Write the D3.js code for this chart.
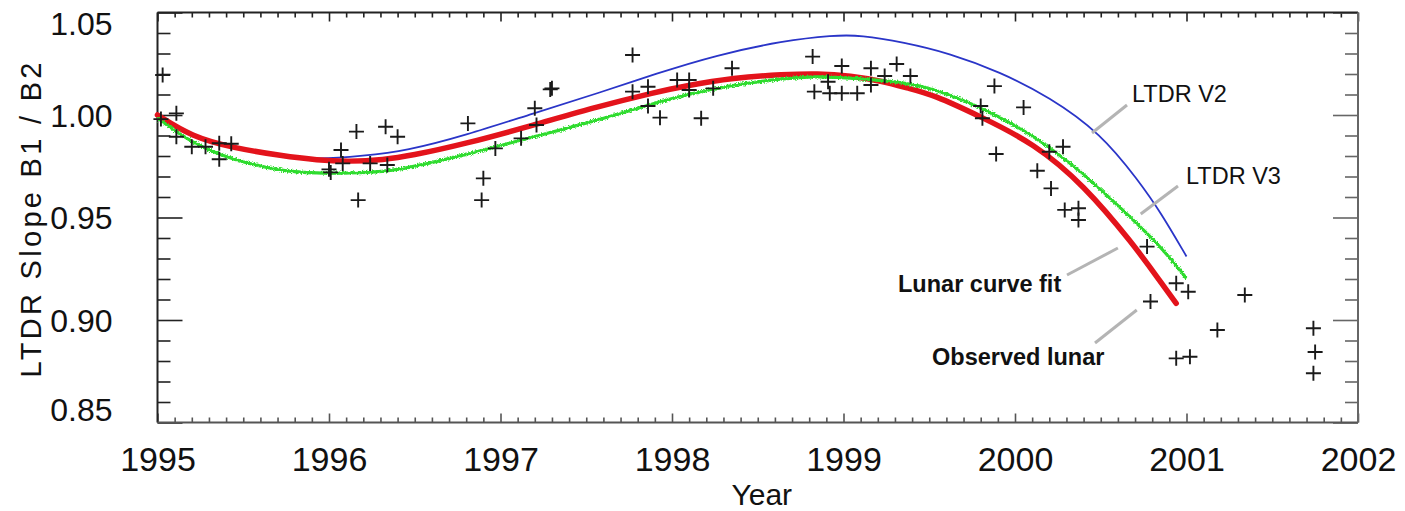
<!DOCTYPE html>
<html>
<head>
<meta charset="utf-8">
<script src="https://cdn.jsdelivr.net/npm/d3@7"></script>
<style>
  html, body { margin: 0; padding: 0; background: #fff; }
  svg { display: block; font-family: "Liberation Sans", Arial, sans-serif; }
</style>
</head>
<body>
<svg id="chart" width="1405" height="511"></svg>
<script>
// Year ticks and slope ticks
const yearTicks = [1995, 1996, 1997, 1998, 1999, 2000, 2001, 2002];
const slopeTicks = [0.85, 0.90, 0.95, 1.00, 1.05];
const slopeTickLabels = ["0.85", "0.90", "0.95", "1.00", "1.05"];

// LTDR V2 slope (year, B1/B2)
const ltdrV2Year  = [1995.00, 1995.20, 1995.44, 1995.73, 1995.93, 1996.20, 1996.45, 1996.80, 1997.19, 1997.58, 1997.90, 1998.26, 1998.65, 1998.94, 1999.10, 1999.35, 1999.62, 1999.91, 2000.20, 2000.50, 2000.72, 2000.85, 2001.00];
const ltdrV2Value = [1.0000, 0.9894, 0.9840, 0.9800, 0.9783, 0.9800, 0.9825, 0.9902, 1.0008, 1.0109, 1.0200, 1.0293, 1.0362, 1.0389, 1.0390, 1.0355, 1.0301, 1.0211, 1.0089, 0.9911, 0.9680, 0.9525, 0.9310];

// LTDR V3 slope
const ltdrV3Year  = [1995.00, 1995.20, 1995.44, 1995.73, 1995.93, 1996.12, 1996.32, 1996.45, 1996.80, 1997.19, 1997.58, 1997.90, 1998.26, 1998.65, 1998.84, 1999.08, 1999.35, 1999.52, 1999.80, 2000.11, 2000.40, 2000.69, 2000.85, 2001.00];
const ltdrV3Value = [0.9985, 0.9862, 0.9780, 0.9725, 0.9716, 0.9716, 0.9723, 0.9740, 0.9805, 0.9894, 0.9976, 1.0060, 1.0135, 1.0179, 1.0190, 1.0179, 1.0160, 1.0130, 1.0040, 0.9902, 0.9716, 0.9488, 0.9358, 0.9203];

// Lunar curve fit
const lunarFitYear  = [1995.00, 1995.20, 1995.44, 1995.73, 1995.93, 1996.12, 1996.32, 1996.47, 1996.80, 1997.19, 1997.58, 1997.90, 1998.07, 1998.36, 1998.65, 1998.85, 1999.04, 1999.23, 1999.38, 1999.52, 1999.80, 2000.11, 2000.40, 2000.69, 2000.85, 2000.94];
const lunarFitValue = [1.0000, 0.9894, 0.9840, 0.9800, 0.9780, 0.9772, 0.9782, 0.9800, 0.9860, 0.9950, 1.0044, 1.0110, 1.0141, 1.0182, 1.0198, 1.0203, 1.0192, 1.0165, 1.0130, 1.0100, 0.9992, 0.9862, 0.9660, 0.9370, 0.9185, 0.9081];

// Observed lunar slopes
const observedYear  = [1995.03, 1995.02, 1995.11, 1995.11, 1995.20, 1995.28, 1995.36, 1995.36, 1995.43,
  1996.00, 1996.01, 1996.07, 1996.08, 1996.16, 1996.17, 1996.24, 1996.33, 1996.34, 1996.40,
  1996.81, 1996.90, 1996.89, 1996.97, 1997.12, 1997.20, 1997.21, 1997.29, 1997.30,
  1997.77, 1997.77, 1997.86, 1997.86, 1997.93, 1998.03, 1998.10, 1998.10, 1998.17, 1998.24, 1998.35,
  1998.82, 1998.83, 1998.91, 1998.92, 1998.99, 1998.99, 1999.08, 1999.16, 1999.16, 1999.24, 1999.31, 1999.39,
  1999.80, 1999.81, 1999.88, 1999.89, 2000.05, 2000.13, 2000.20, 2000.21, 2000.28, 2000.29, 2000.37, 2000.37,
  2000.77, 2000.79, 2000.94, 2001.01, 2000.94, 2001.02, 2001.18, 2001.34, 2001.74, 2001.75, 2001.74];
const observedValue = [1.0195, 0.9980, 1.0008, 0.9894, 0.9845, 0.9845, 0.9862, 0.9784, 0.9860,
  0.9735, 0.9720, 0.9829, 0.9764, 0.9919, 0.9585, 0.9764, 0.9943, 0.9756, 0.9894,
  0.9959, 0.9691, 0.9585, 0.9837, 0.9886, 1.0033, 0.9951, 1.0125, 1.0130,
  1.0293, 1.0114, 1.0138, 1.0044, 0.9987, 1.0171, 1.0171, 1.0122, 0.9984, 1.0130, 1.0228,
  1.0285, 1.0114, 1.0162, 1.0106, 1.0106, 1.0239, 1.0106, 1.0228, 1.0146, 1.0190, 1.0249, 1.0190,
  1.0044, 0.9984, 1.0141, 0.9810, 1.0037, 0.9728, 0.9821, 0.9642, 0.9845, 0.9537, 0.9545, 0.9488,
  0.9358, 0.9090, 0.9179, 0.9138, 0.8813, 0.8821, 0.8951, 0.9122, 0.8960, 0.8844, 0.8740];

// Curve labels and the (year, slope) point where each leader line ends
const noteText   = ["LTDR V2", "LTDR V3", "Lunar curve fit", "Observed lunar"];
const noteBold   = [false, false, true, true];
const noteYear   = [2000.449, 2000.733, 2000.600, 2000.710];
const noteValue  = [0.9912, 0.9517, 0.9351, 0.9049];

const svg = d3.select("#chart");
const x = d3.scaleLinear().domain([1995, 2002]).range([157.5, 1358]);
const y = d3.scaleLinear().domain([0.85, 1.05]).range([422.5, 12.5]);

// rough texture for the V3 trace
const defs = svg.append("defs");
const f = defs.append("filter").attr("id", "rough")
  .attr("x", "-2%").attr("y", "-5%").attr("width", "104%").attr("height", "110%");
f.append("feTurbulence").attr("type", "fractalNoise").attr("baseFrequency", "0.8")
  .attr("numOctaves", 1).attr("seed", 4).attr("result", "noise");
f.append("feDisplacementMap").attr("in", "SourceGraphic").attr("in2", "noise")
  .attr("scale", 5).attr("xChannelSelector", "R").attr("yChannelSelector", "G");

// ---- axes -------------------------------------------------------------
const minorYears = d3.range(1995, 2002.0001, 0.1).filter(v => Math.abs(v - Math.round(v)) > 1e-6);
const minorSlope = d3.range(0.85, 1.0501, 0.01).filter(v => Math.abs(v * 20 - Math.round(v * 20)) > 1e-6);

function styleAxis(g, color) {
  g.select(".domain").remove();
  g.selectAll(".tick line").attr("stroke", color).attr("stroke-width", 1.6);
}

// bottom
const gB = svg.append("g").attr("transform", `translate(0,${y(0.85)})`);
gB.call(d3.axisBottom(x).tickValues(yearTicks).tickSize(-9).tickPadding(24).tickFormat(d3.format("d")));
styleAxis(gB, "#555");
gB.selectAll(".tick text").attr("fill", "#111").attr("font-size", 34).attr("dy", "0.71em");
const gBm = svg.append("g").attr("transform", `translate(0,${y(0.85)})`);
gBm.call(d3.axisBottom(x).tickValues(minorYears).tickSize(-5).tickFormat(""));
styleAxis(gBm, "#555");

// top
const gT = svg.append("g").attr("transform", `translate(0,${y(1.05)})`);
gT.call(d3.axisTop(x).tickValues(yearTicks).tickSize(-9).tickFormat(""));
styleAxis(gT, "#222");
const gTm = svg.append("g").attr("transform", `translate(0,${y(1.05)})`);
gTm.call(d3.axisTop(x).tickValues(minorYears).tickSize(-5).tickFormat(""));
styleAxis(gTm, "#222");

// left
const gL = svg.append("g").attr("transform", `translate(${x(1995)},0)`);
gL.call(d3.axisLeft(y).tickValues(slopeTicks).tickSize(-25).tickPadding(45)
  .tickFormat((d, i) => slopeTickLabels[i]));
styleAxis(gL, "#222");
gL.selectAll(".tick text").attr("fill", "#111").attr("font-size", 32)
  .attr("dy", d => d > 1.04 ? "0.7em" : (d < 0.86 ? "-0.05em" : "0.35em"));
const gLm = svg.append("g").attr("transform", `translate(${x(1995)},0)`);
gLm.call(d3.axisLeft(y).tickValues(minorSlope).tickSize(-13).tickFormat(""));
styleAxis(gLm, "#222");

// right
const gR = svg.append("g").attr("transform", `translate(${x(2002)},0)`);
gR.call(d3.axisRight(y).tickValues(slopeTicks).tickSize(-25).tickFormat(""));
styleAxis(gR, "#666");
const gRm = svg.append("g").attr("transform", `translate(${x(2002)},0)`);
gRm.call(d3.axisRight(y).tickValues(minorSlope).tickSize(-13).tickFormat(""));
styleAxis(gRm, "#666");

// frame
svg.append("line").attr("x1", x(1995)).attr("x2", x(2002)).attr("y1", y(1.05)).attr("y2", y(1.05))
  .attr("stroke", "#222").attr("stroke-width", 2);
svg.append("line").attr("x1", x(1995)).attr("x2", x(1995)).attr("y1", y(1.05)).attr("y2", y(0.85))
  .attr("stroke", "#222").attr("stroke-width", 2);
svg.append("line").attr("x1", x(1995)).attr("x2", x(2002)).attr("y1", y(0.85)).attr("y2", y(0.85))
  .attr("stroke", "#555").attr("stroke-width", 2);
svg.append("line").attr("x1", x(2002)).attr("x2", x(2002)).attr("y1", y(1.05)).attr("y2", y(0.85))
  .attr("stroke", "#666").attr("stroke-width", 2);

// axis titles
svg.append("text").attr("x", (x(1995) + x(2002)) / 2 + 4).attr("y", 505)
  .attr("text-anchor", "middle").attr("font-size", 30).attr("fill", "#111").text("Year");
svg.append("text").attr("transform", "translate(41,220) rotate(-90)")
  .attr("text-anchor", "middle").attr("font-size", 29).attr("fill", "#111")
  .attr("textLength", 315).attr("lengthAdjust", "spacing")
  .text("LTDR Slope B1 / B2");

// ---- curves -----------------------------------------------------------
const line = d3.line().x(d => x(d[0])).y(d => y(d[1])).curve(d3.curveBasis);
const zip = (a, b) => a.map((v, i) => [v, b[i]]);

const plot = svg.append("g");
plot.append("path").datum(zip(ltdrV2Year, ltdrV2Value)).attr("d", line)
  .attr("fill", "none").attr("stroke", "#2a35c8").attr("stroke-width", 1.8);
plot.append("path").datum(zip(lunarFitYear, lunarFitValue)).attr("d", line)
  .attr("fill", "none").attr("stroke", "#e3131b").attr("stroke-width", 5.5)
  .attr("stroke-linecap", "round");
plot.append("path").datum(zip(ltdrV3Year, ltdrV3Value)).attr("d", line)
  .attr("fill", "none").attr("stroke", "#3ad83a").attr("stroke-width", 2);
plot.append("path").datum(zip(ltdrV3Year, ltdrV3Value)).attr("d", line)
  .attr("fill", "none").attr("stroke", "#2fdc2f").attr("stroke-width", 3.2)
  .attr("filter", "url(#rough)");

// ---- observed points --------------------------------------------------
plot.selectAll("path.obs").data(zip(observedYear, observedValue)).join("path")
  .attr("class", "obs")
  .attr("transform", d => `translate(${x(d[0])},${y(d[1])})`)
  .attr("d", "M-7.5,0H7.5M0,-7.5V7.5")
  .attr("stroke", "#1a1a1a").attr("stroke-width", 1.9).attr("fill", "none");

// ---- labels with leader lines -----------------------------------------
const labelPos = [[1132, 102], [1186, 184], [898, 292], [932, 365]];
const leaderStart = [[1127, 105], [1178, 186], [1067, 275], [1095, 343]];
const notes = svg.append("g");
noteText.forEach((t, i) => {
  notes.append("line")
    .attr("x1", leaderStart[i][0]).attr("y1", leaderStart[i][1])
    .attr("x2", x(noteYear[i])).attr("y2", y(noteValue[i]))
    .attr("stroke", "#b4b4b4").attr("stroke-width", 3);
  notes.append("text").attr("x", labelPos[i][0]).attr("y", labelPos[i][1])
    .attr("font-size", 23.5).attr("font-weight", noteBold[i] ? "bold" : "normal")
    .attr("fill", "#111").text(t);
});
</script>
</body>
</html>
